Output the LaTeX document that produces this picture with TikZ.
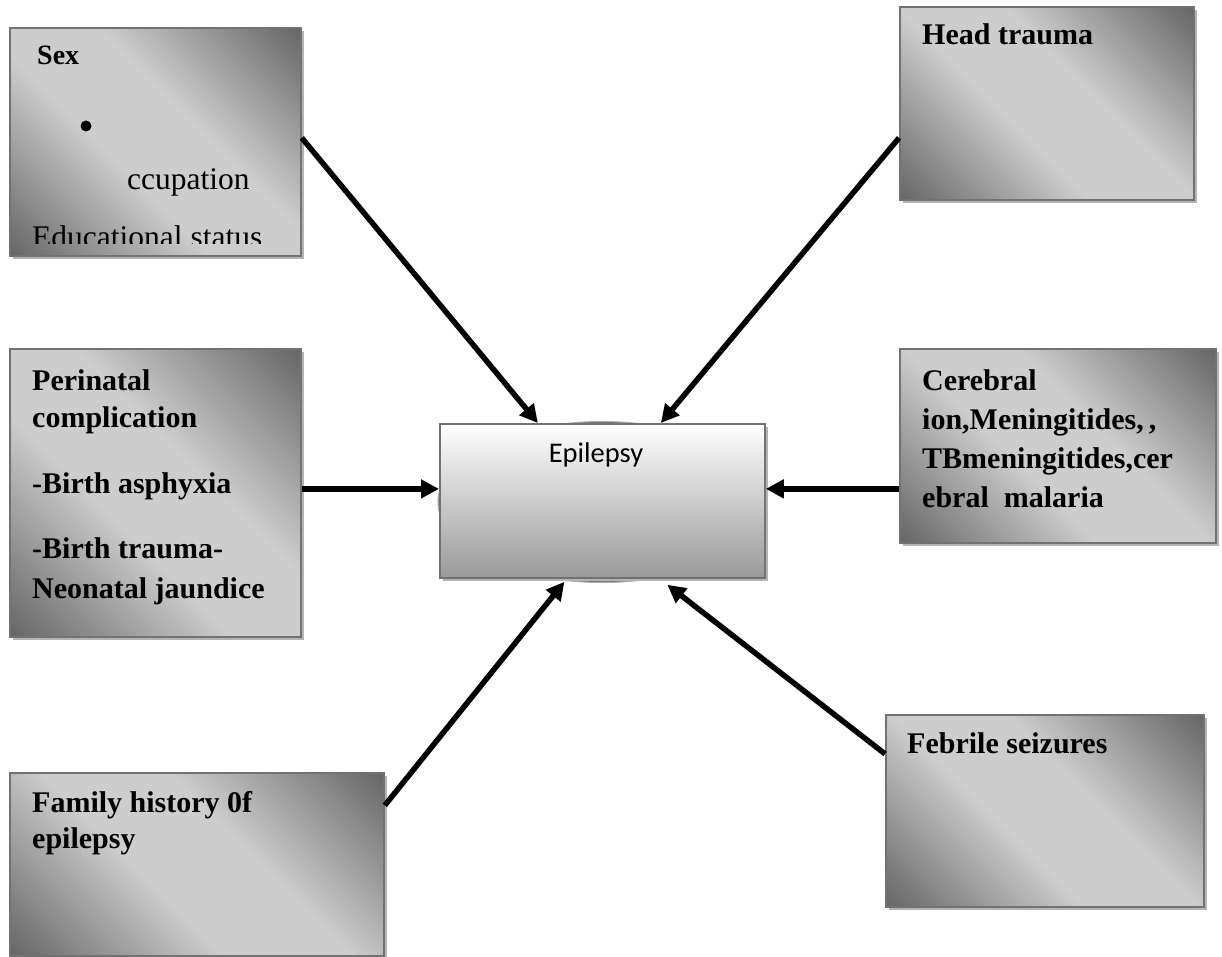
\documentclass[tikz,border=0pt]{standalone}
\usepackage{fontspec}
\setmainfont{Liberation Serif}
\newfontfamily\calibfont{Carlito}
\usetikzlibrary{arrows.meta,shapes.geometric,shadows}
\definecolor{boxdark}{HTML}{676767}
\definecolor{boxlight}{HTML}{CDCDCD}
\definecolor{boxline}{HTML}{727272}
\definecolor{shadowc}{HTML}{B4B4B4}
\definecolor{ellline}{HTML}{A9B39B}
\pgfdeclarehorizontalshading{diaggray}{100bp}{color(0bp)=(boxdark); color(15bp)=(boxdark); color(42bp)=(boxlight); color(58bp)=(boxlight); color(85bp)=(boxdark); color(100bp)=(boxdark)}
\begin{document}
\begin{tikzpicture}[x=1pt,y=-1pt,
  cbox/.style={draw=boxline,line width=1.8pt,inner sep=0pt,anchor=north west,
    shading=diaggray,shading angle=45,
    drop shadow={shadow xshift=3.5pt,shadow yshift=-3.5pt,fill=shadowc,opacity=1}},
  ebox/.style={draw=boxline,line width=1.8pt,inner sep=0pt,anchor=north west,
    top color=white,bottom color=black!40,
    drop shadow={shadow xshift=3pt,shadow yshift=-3pt,fill=shadowc,opacity=1}},
  btxt/.style={anchor=base west,inner sep=0pt,font=\fontsize{30}{37}\selectfont\bfseries,align=left},
  rtxt/.style={anchor=base west,inner sep=0pt,font=\fontsize{31.5}{36}\selectfont},
  arr/.style={line width=5.5pt,-{Triangle[length=18pt,width=18pt]}}]
\useasboundingbox (0,0) rectangle (1222,957);

% boxes
\node[cbox,minimum width=291pt,minimum height=228pt] (sex) at (9,27) {};
\node[cbox,minimum width=294pt,minimum height=193pt] (head) at (899,6) {};
\node[cbox,minimum width=291pt,minimum height=288pt] (peri) at (9,348) {};
\node[cbox,minimum width=316pt,minimum height=194pt] (cere) at (899,348) {};
\node[cbox,minimum width=374pt,minimum height=183pt] (fam) at (9,772) {};
\node[cbox,minimum width=318pt,minimum height=192pt] (feb) at (885,714) {};

% central
\node[ellipse,draw=ellline,line width=1pt,fill=black!55,inner sep=0pt,minimum width=328pt,minimum height=161pt] (ell) at (602,502) {};
\node[ebox,minimum width=325pt,minimum height=154pt] (epi) at (439,423) {};
\node[anchor=base,inner sep=0pt,font=\calibfont\fontsize{28.5}{34}\selectfont] (epit) at (596,462) {Epilepsy};

% texts
\node[btxt,font=\fontsize{28}{34}\selectfont\bfseries] (sext) at (37,65) {Sex};
\node[circle,fill=black,inner sep=0pt,minimum size=11pt] (bul) at (86,126) {};
\node[rtxt] (occ) at (127,190) {ccupation};
\begin{scope}
\clip (10,28) rectangle (299,244);
\node[rtxt] (edu) at (32,248) {Educational status};
\end{scope}
\node[btxt] (headt) at (922,45) {Head trauma};
\node[btxt] (perit) at (32,598) {Perinatal\\complication\\[29pt]-Birth asphyxia\\[28pt]-Birth trauma-\\[3pt]Neonatal jaundice};
\node[btxt,font=\fontsize{30}{39}\selectfont\bfseries] (ceret) at (922,507) {Cerebral\\ion,Meningitides,\,,\\TBmeningitides,cer\\ebral\ \ malaria};
\node[btxt,font=\fontsize{30}{36}\selectfont\bfseries] (famt) at (32,848) {Family history 0f\\epilepsy};
\node[btxt] (febt) at (907,753) {Febrile seizures};

% connectors
\draw[arr] ([yshift=4pt]sex.east) -- ([xshift=-64.5pt]epi.north);
\draw[arr] ([yshift=-34.5pt]head.west) -- ([xshift=58.5pt]epi.north);
\draw[arr] ([yshift=4pt]peri.east) -- ([yshift=12pt]epi.west);
\draw[arr] ([yshift=-43pt]cere.west) -- ([yshift=12pt]epi.east);
\draw[arr] ([yshift=59pt]fam.east) -- ([xshift=-38pt,yshift=-3pt]epi.south);
\draw[arr] ([yshift=57pt]feb.west) -- ([xshift=65pt,yshift=-6pt]epi.south);
\end{tikzpicture}
\end{document}
